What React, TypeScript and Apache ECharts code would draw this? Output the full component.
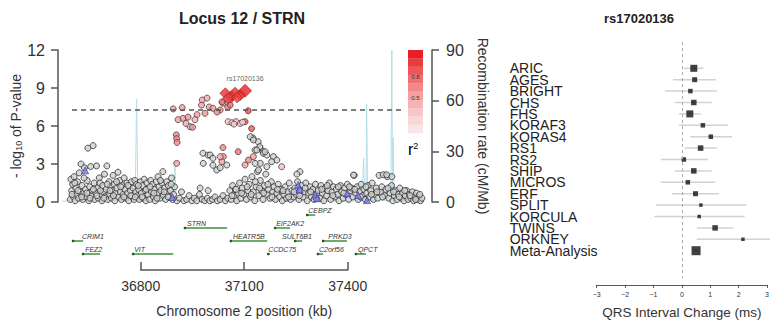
import React, { useEffect, useRef } from 'react';
import * as echarts from 'echarts';

const FONT = '"Liberation Sans", Arial, sans-serif';

// ---------- Locus plot data ----------
const plotTitle = 'Locus 12 / STRN';
const sigLine = 7.3;
const indexName = 'rs17020136';
const indexSnp: number[] = [37102, 8.78];

// low-LD SNPs [kb, -log10 p]
const greyPts: number[][] = [
  [36596,0.2],[36598,1.8],[36600,0.9],[36603,1.4],[36605,0.4],[36607,2.0],[36610,0.1],[36612,1.1],[36615,0.6],[36617,1.6],
  [36620,0.3],[36622,2.3],[36625,0.8],[36627,3.0],[36630,1.3],[36632,0.2],[36635,0.7],[36637,2.7],[36640,1.0],[36642,0.4],
  [36645,1.7],[36647,4.25],[36650,0.1],[36652,1.2],[36655,2.8],[36657,0.5],[36660,0.9],[36662,4.45],[36665,1.5],[36667,0.2],
  [36670,0.7],[36672,2.85],[36675,1.1],[36677,0.3],[36680,1.9],[36682,1.5],[36685,0.6],[36688,0.1],[36690,1.3],[36692,0.8],
  [36695,2.2],[36697,0.4],[36700,1.0],[36702,2.85],[36705,0.2],[36708,1.6],[36710,0.6],[36713,1.2],[36715,0.3],[36718,0.9],
  [36720,2.1],[36723,1.4],[36725,0.1],[36728,0.7],[36731,1.1],[36734,2.35],[36736,0.4],[36739,1.7],[36741,0.8],[36744,0.2],
  [36747,1.3],[36749,0.6],[36752,1.9],[36755,1.0],[36757,0.3],[36760,1.5],[36762,0.7],[36765,0.1],[36768,1.2],[36770,0.9],
  [36773,1.6],[36775,0.4],[36778,1.1],[36781,0.2],[36783,1.7],[36786,0.8],[36788,1.4],[36791,0.5],[36794,1.0],[36796,0.2],
  [36799,1.6],[36802,0.7],[36805,1.3],[36807,0.3],[36810,1.8],[36813,0.9],[36815,0.1],[36818,1.5],[36821,0.6],[36823,1.1],
  [36826,0.2],[36829,1.7],[36831,0.8],[36834,1.4],[36837,0.4],[36840,1.0],[36842,0.1],[36845,1.6],[36848,0.7],[36850,2.0],
  [36853,1.2],[36856,0.3],[36858,0.9],[36861,1.5],[36864,2.4],[36866,0.5],[36869,1.1],[36872,0.2],[36875,1.6],[36877,0.8],
  [36880,1.3],[36883,0.4],[36886,0.9],[36889,1.9],[36892,0.2],[36895,0.6],[36898,1.2],
  [36601,0.6],[36609,1.5],[36618,0.9],[36629,0.4],[36636,1.9],[36644,0.7],[36653,0.3],[36663,1.0],[36673,0.5],[36683,0.9],
  [36693,0.3],[36703,1.4],[36711,0.9],[36721,0.5],[36730,1.6],[36742,1.2],[36751,0.4],[36763,1.3],[36771,0.5],[36784,0.4],
  [36793,1.3],[36804,0.4],[36816,1.0],[36827,1.2],[36838,0.7],[36847,0.3],[36857,1.7],[36868,0.8],[36879,0.4],[36888,1.4],
  [36905,0.1],[36912,0.3],[36918,0.8],[36925,0.1],[36933,0.2],[36940,0.5],[36948,0.1],[36955,0.3],[36962,0.1],[36970,0.6],
  [36972,1.1],[36978,0.2],[36985,0.1],[36993,0.3],[36995,0.9],[37000,0.1],[37008,0.2],[37015,0.4],[37022,0.1],[37030,0.2],
  [37038,0.5],[37045,0.1],[37052,0.3],
  [37058,0.9],[37062,0.2],[37066,1.3],[37070,0.5],[37074,1.0],[37078,0.1],[37082,0.7],[37086,1.5],[37090,0.3],[37094,1.1],
  [37098,0.6],[37102,1.8],[37106,0.2],[37110,0.9],[37114,1.4],[37118,0.4],[37122,2.0],[37126,0.8],[37130,0.1],[37134,1.2],
  [37138,2.4],[37142,0.5],[37146,1.7],[37150,0.9],[37154,0.2],[37158,1.3],[37162,2.2],[37166,0.6],[37170,1.0],[37174,0.3],
  [37178,1.6],[37182,0.8],[37186,1.2],[37190,0.2],[37194,0.7],[37198,1.4],[37202,0.4],[37206,1.0],[37210,0.1],[37214,0.6],
  [37218,1.2],[37222,0.3],[37226,0.8],[37230,1.5],[37234,0.2],[37238,0.9],[37242,0.4],[37246,1.1],[37250,0.6],[37254,1.6],
  [37258,0.2],[37262,0.9],[37266,1.3],[37270,0.4],[37274,0.8],[37278,1.5],[37282,0.1],[37286,0.7],[37290,1.2],[37294,0.4],
  [37298,1.0],[37302,0.2],[37306,1.4],[37310,0.6],[37314,0.9],[37318,0.3],[37322,1.3],[37326,0.7],[37330,0.1],[37334,1.1],
  [37338,0.5],[37342,0.9],[37346,1.5],[37350,0.2],[37354,0.8],[37358,1.2],[37362,0.4],[37366,1.0],[37370,0.6],[37374,0.1],
  [37378,1.3],[37382,0.8],[37386,0.3],[37390,1.1],[37394,0.6],[37398,1.4],[37402,0.2],[37406,0.9],[37410,1.1],[37414,0.4],
  [37418,2.1],[37422,0.7],[37426,1.2],[37430,0.2],[37434,0.8],[37438,1.4],[37442,0.5],[37446,1.0],[37450,0.2],[37454,0.7],
  [37458,1.3],[37462,0.4],[37466,0.9],[37470,1.5],[37474,0.2],[37478,0.6],[37482,1.1],[37486,0.3],[37490,2.1],[37494,0.8],
  [37498,1.2],[37502,2.15],[37506,0.5],[37510,1.0],[37514,2.0],[37518,0.3],[37522,0.7],[37526,1.3],[37530,0.1],[37534,0.5],
  [37538,0.9],[37542,0.2],[37546,0.6],[37550,1.1],[37554,0.3],[37558,0.7],[37562,0.1],[37566,0.5],[37570,0.9],[37574,0.2],
  [37578,0.6],[37582,0.3],[37586,0.8],[37590,0.1],[37594,0.4],[37598,0.7],[37602,0.2],[37606,0.5],[37610,0.1],[37614,0.3],
  [37064,0.5],[37076,1.0],[37092,0.7],[37108,1.2],[37120,0.6],[37132,1.6],[37144,1.1],[37156,0.7],[37168,1.4],[37180,0.4],
  [37196,1.0],[37212,0.9],[37228,0.4],[37244,0.8],[37260,0.5],[37276,1.1],[37292,0.8],[37308,0.3],[37324,1.0],[37340,1.3],
  [37356,0.5],[37372,1.2],[37388,0.7],[37404,1.2],[37420,1.0],[37436,0.4],[37452,1.2],[37468,0.6],[37484,0.8],[37500,0.4],
  [37516,1.1],[37532,0.8],[37548,0.4],[37564,0.9],[37580,0.5],[37596,0.2],[37608,0.6],
  [36943,5.94],[37125,5.05],[37140,4.76],[36980,3.85],[36995,3.7],[37145,4.25],[37154,3.97],[36981,3.05],[37020,2.53],
  [37049,2.92],[37009,2.9],[37117,5.15],[37126,4.9],[37145,4.37],[37131,4.1],[37155,3.84],[37165,3.71],[37184,3.58],
  [37194,3.31],[37146,3.05],[37165,2.79],[37001,3.71],[37160,3.97],[37179,3.18],[37136,4.1],[37131,3.05],[37141,2.53],
  [37261,2.39],[37252,2.2],[37416,2.13],[37512,2.15],[37527,2.0],[37030,2.7],[37009,3.45],
];

// SNPs without LD information (blue)
const bluePts: number[][] = [
  [36639,2.5],[36891,0.4],[37256,1.35],[37260,1.0],[37305,0.6],[37311,0.3],[37398,0.7],[37429,0.55],[37455,0.15],
];

// SNPs in LD with index [kb, -log10 p, r2]
const ldPts: number[][] = [
  [36894,7.35,0.5],[36920,7.45,0.5],[36922,6.6,0.5],[36937,6.7,0.55],[36908,6.5,0.5],[36963,6.9,0.5],[36978,8.05,0.45],
  [36992,8.2,0.45],[36976,7.65,0.5],[36998,7.5,0.5],[36986,7.0,0.55],[37009,7.4,0.5],[37030,7.26,0.55],[37038,7.8,0.5],
  [37059,8.05,0.55],[37052,7.5,0.6],[37021,7.1,0.6],[36957,6.5,0.4],[36931,6.2,0.45],[36950,5.9,0.55],
  [36903,5.3,0.6],[36904,5.0,0.6],[36905,4.7,0.6],[36904,3.05,0.5],
  [37035,7.9,0.7],[37059,7.65,0.7],[37111,7.2,0.85],
  [37053,6.34,0.3],[37064,6.26,0.25],[37076,6.34,0.35],[37088,6.2,0.3],[37102,6.34,0.8],[37121,5.8,0.8],[37082,3.97,0.7],
  [37038,4.3,0.6],[37039,3.58,0.55],[37035,3.18,0.5],[37102,2.92,0.5],[37126,3.58,0.5],[37030,3.58,0.4],[37112,3.31,0.6],
  [37208,2.79,0.35],[37095,6.3,0.2],[37070,6.15,0.25],
];

// strongly linked SNPs (r2 >= 0.8) drawn as diamonds
const hiPts: number[][] = [
  [37045,8.58,0.95],[37064,8.37,0.92],[37073,8.63,0.95],[37088,8.45,0.93],[37053,8.2,0.9],[37079,8.26,0.9],
];

// recombination rate [kb, cM/Mb]
const recomb: number[][] = [
  [36572,0.5],[36700,0.8],[36712,1],[36716,13],[36720,1],[36784,1],[36788,61],[36792,1],[36895,1],[36899,22],[36903,1],
  [37040,0.5],[37044,6],[37048,0.5],[37200,0.5],[37441,0.5],[37445,26],[37449,1],[37452,1],[37454,58],[37457,1],
  [37524,1],[37527,90],[37529,2],[37531,38],[37534,1],[37556,1],[37560,8],[37563,1],[37590,1],[37594,8],[37598,1],[37623,0.5],
];

// genes
const geneNames = ['CEBPZ','STRN','EIF2AK2','CRIM1','HEATR5B','SULT6B1','PRKD3','FEZ2','VIT','CCDC75','C2orf56','QPCT'];
const geneStart = [37282,36928,37189,36604,37061,37247,37328,36633,36778,37169,37313,37423];
const geneEnd   = [37305,37050,37232,36633,37166,37267,37397,36682,36894,37174,37328,37452];
const geneRow   = [0,1,1,2,2,2,2,3,3,3,3,3];
const geneLabel = [37285,36934,37192,36630,37067,37209,37343,36639,36781,37169,37316,37429];

// ---------- Forest plot data ----------
const forestTitle = 'rs17020136';
const studies = ['ARIC','AGES','BRIGHT','CHS','FHS','KORAF3','KORAS4','RS1','RS2','SHIP','MICROS','ERF','SPLIT','KORCULA','TWINS','ORKNEY','Meta-Analysis'];
const est = [0.42,0.45,0.30,0.42,0.28,0.74,1.02,0.66,0.07,0.42,0.21,0.48,0.67,0.61,1.17,2.15,0.50];
const lo  = [0.07,-0.31,-0.59,-0.24,-0.10,-0.10,0.30,0.10,-0.74,-0.24,-0.74,-0.36,-0.91,-0.97,0.53,0.52,0.36];
const hi  = [0.76,1.20,1.23,1.05,0.68,1.63,1.77,1.23,0.91,1.05,1.17,1.31,2.27,2.21,1.81,3.10,0.64];
const boxSize = [7,5,4.5,5.5,7,4.5,4.5,5.5,4.5,5.5,4.5,5,3.5,3.5,5.5,3.5,9];

const ldColor = (r2: number) => {
  const t = Math.pow(Math.max(0, Math.min(1, r2)), 1.4);
  const a = [252, 236, 236];
  const b = [230, 32, 36];
  const c = a.map((v, i) => Math.round(v + (b[i] - v) * t));
  return `rgb(${c.join(',')})`;
};

const legendBands = [1.0, 0.9, 0.8, 0.7, 0.6, 0.5, 0.4, 0.3, 0.2, 0.1];

export default function App() {
  const ref = useRef<HTMLDivElement>(null);
  useEffect(() => {
    if (!ref.current) return;
    const chart = echarts.init(ref.current, undefined, { renderer: 'svg' });
    const axisCol = '#555';
    const txt = '#333';

    const legendGraphics: any[] = legendBands.map((r2, i) => ({
      type: 'rect',
      shape: { x: 408, y: 50 + i * 8.3, width: 15, height: 8.6 },
      style: { fill: ldColor(r2) },
      silent: true,
    }));

    const option: any = {
      animation: false,
      backgroundColor: '#fff',
      textStyle: { fontFamily: FONT },
      grid: [
        { left: 62, top: 50, width: 363, height: 152 },
        { left: 62, top: 208.5, width: 363, height: 52 },
        { left: 140.7, top: 262, width: 207, height: 8 },
        { left: 596.7, top: 34.1, width: 172.6, height: 250.8 },
      ],
      xAxis: [
        { gridIndex: 0, type: 'value', min: 36572, max: 37623, show: false },
        { gridIndex: 1, type: 'value', min: 36572, max: 37623, show: false },
        {
          gridIndex: 2, type: 'value', min: 36800, max: 37400, interval: 300,
          axisLine: { onZero: false, lineStyle: { color: axisCol, width: 1.5 } },
          axisTick: { inside: true, length: 8, lineStyle: { color: axisCol, width: 1.5 } },
          axisLabel: { fontSize: 14, color: txt, margin: 9, fontFamily: FONT, formatter: (v: number) => String(v) },
          splitLine: { show: false },
          name: 'Chromosome 2 position (kb)', nameLocation: 'middle', nameGap: 34,
          nameTextStyle: { fontSize: 14, color: txt, fontFamily: FONT },
        },
        {
          gridIndex: 3, type: 'value', min: -3, max: 3, interval: 1,
          axisLine: { onZero: false, lineStyle: { color: axisCol, width: 1 } },
          axisTick: { length: 3, lineStyle: { color: axisCol } },
          axisLabel: { fontSize: 7, color: txt, margin: 6, fontFamily: FONT,
            formatter: (v: number) => (v < 0 ? '\u2212' + Math.abs(v) : String(v)) },
          splitLine: { show: false },
          name: 'QRS Interval Change (ms)', nameLocation: 'middle', nameGap: 21,
          nameTextStyle: { fontSize: 13.5, color: txt, fontFamily: FONT },
        },
      ],
      yAxis: [
        {
          gridIndex: 0, type: 'value', min: 0, max: 12, interval: 3, position: 'left', offset: 4,
          axisLine: { show: true, lineStyle: { color: axisCol, width: 1.5 } },
          axisTick: { show: true, length: 7, lineStyle: { color: axisCol, width: 1.5 } },
          axisLabel: { fontSize: 16, color: txt, margin: 13, fontFamily: FONT },
          splitLine: { show: false },
          name: '- log{s|10} of P-value', nameLocation: 'middle', nameRotate: 90, nameGap: 34,
          nameTextStyle: { fontSize: 14, color: txt, fontFamily: FONT,
            rich: { s: { fontSize: 9, verticalAlign: 'bottom', color: txt, fontFamily: FONT } } },
        },
        {
          gridIndex: 0, type: 'value', min: 0, max: 90, interval: 30, position: 'right', offset: 7,
          axisLine: { show: true, lineStyle: { color: axisCol, width: 1.5 } },
          axisTick: { show: true, length: 7, lineStyle: { color: axisCol, width: 1.5 } },
          axisLabel: { fontSize: 16, color: txt, margin: 14, fontFamily: FONT },
          splitLine: { show: false },
          name: 'Recombination rate (cM/Mb)', nameLocation: 'middle', nameRotate: -90, nameGap: 44,
          nameTextStyle: { fontSize: 14, color: txt, fontFamily: FONT },
        },
        { gridIndex: 1, type: 'value', min: -0.5, max: 3.5, inverse: true, show: false },
        { gridIndex: 2, type: 'value', min: 0, max: 1, show: false },
        {
          gridIndex: 3, type: 'value', min: -3, max: 19, interval: 1, inverse: true,
          axisLine: { show: false }, axisTick: { show: false }, splitLine: { show: false },
          axisLabel: { align: 'left', margin: 87, fontSize: 14, color: '#222', fontFamily: FONT,
            formatter: (v: number) => studies[v] ?? '' },
        },
      ],
      graphic: [
        { type: 'text', style: { text: plotTitle, x: 242, y: 18, textAlign: 'center', textVerticalAlign: 'middle',
          font: `bold 16px ${FONT}`, fill: '#222' } },
        { type: 'text', style: { text: forestTitle, x: 639, y: 18, textAlign: 'center', textVerticalAlign: 'middle',
          font: `bold 13px ${FONT}`, fill: '#222' } },
        ...legendGraphics,
        { type: 'text', style: { text: '0.8', x: 415.5, y: 77, textAlign: 'center', textVerticalAlign: 'middle',
          font: `6px ${FONT}`, fill: '#333' } },
        { type: 'text', style: { text: '0.5', x: 415.5, y: 98, textAlign: 'center', textVerticalAlign: 'middle',
          font: `6px ${FONT}`, fill: '#333' } },
        { type: 'text', style: { text: '{a|r}{b|2}', x: 408, y: 149, textVerticalAlign: 'middle',
          rich: { a: { fontSize: 16, fontFamily: FONT, color: '#333' },
                  b: { fontSize: 9, fontFamily: FONT, verticalAlign: 'top', color: '#333' } } } },
      ],
      series: [
        {
          type: 'line', xAxisIndex: 0, yAxisIndex: 1, data: recomb, symbol: 'none', z: 1,
          lineStyle: { color: '#b3dfe6', width: 1 }, silent: true,
        },
        {
          type: 'scatter', xAxisIndex: 0, yAxisIndex: 0, data: greyPts, symbol: 'circle', symbolSize: 6, z: 2,
          itemStyle: { color: '#cfcfcf', borderColor: '#303030', borderWidth: 1 },
          markLine: {
            silent: true, symbol: 'none', label: { show: false },
            lineStyle: { type: [5, 4], color: '#555', width: 1.5 },
            data: [[{ coord: [36601, sigLine] }, { coord: [37565, sigLine] }]],
          },
        },
        {
          type: 'scatter', xAxisIndex: 0, yAxisIndex: 0, data: bluePts, symbol: 'triangle', symbolSize: 7, z: 3,
          itemStyle: { color: '#7a7ae0', borderColor: '#3a3aa0', borderWidth: 0.8 },
        },
        {
          type: 'scatter', xAxisIndex: 0, yAxisIndex: 0, data: ldPts, symbol: 'circle', symbolSize: 6, z: 4,
          itemStyle: { color: (p: any) => ldColor(p.value[2]), borderColor: '#3c2c2c', borderWidth: 0.9 },
        },
        {
          type: 'scatter', xAxisIndex: 0, yAxisIndex: 0, data: hiPts, symbol: 'diamond', symbolSize: 11, z: 5,
          itemStyle: { color: (p: any) => ldColor(p.value[2]), borderColor: '#a01818', borderWidth: 0.8 },
        },
        {
          type: 'scatter', xAxisIndex: 0, yAxisIndex: 0, data: [indexSnp], symbol: 'diamond', symbolSize: 13, z: 6,
          itemStyle: { color: ldColor(1), borderColor: '#a01818', borderWidth: 0.8 },
          label: { show: true, position: 'top', distance: 2, formatter: indexName, fontSize: 7, color: '#333', fontFamily: FONT },
        },
        {
          type: 'custom', xAxisIndex: 1, yAxisIndex: 2, z: 2,
          data: geneNames.map((_, i) => [geneStart[i], geneEnd[i], geneRow[i], geneLabel[i]]),
          renderItem: (params: any, api: any) => {
            const s = api.coord([api.value(0), api.value(2)]);
            const e = api.coord([api.value(1), api.value(2)]);
            const l = api.coord([api.value(3), api.value(2)]);
            return {
              type: 'group',
              children: [
                { type: 'line', shape: { x1: s[0], y1: s[1], x2: e[0], y2: e[1] }, style: { stroke: '#3f8f3f', lineWidth: 1.5 } },
                { type: 'circle', shape: { cx: s[0], cy: s[1], r: 1.3 }, style: { fill: '#1f5a1f' } },
                { type: 'text', x: l[0], y: s[1] - 1.5,
                  style: { text: geneNames[params.dataIndex], font: `italic 7px ${FONT}`, fill: '#333',
                    textAlign: 'left', textVerticalAlign: 'bottom' } },
              ],
            };
          },
        },
        {
          type: 'custom', xAxisIndex: 3, yAxisIndex: 4, z: 2, clip: false,
          data: studies.map((_, i) => [lo[i], hi[i], i]),
          renderItem: (params: any, api: any) => {
            const s = api.coord([api.value(0), api.value(2)]);
            const e = api.coord([api.value(1), api.value(2)]);
            return { type: 'line', shape: { x1: s[0], y1: s[1], x2: e[0], y2: e[1] }, style: { stroke: '#d2d2d2', lineWidth: 1.5 } };
          },
        },
        {
          type: 'scatter', xAxisIndex: 3, yAxisIndex: 4, z: 3, symbol: 'rect',
          data: studies.map((_, i) => [est[i], i]),
          symbolSize: (_v: any, p: any) => boxSize[p.dataIndex],
          itemStyle: { color: '#111' },
          markLine: {
            silent: true, symbol: 'none', label: { show: false },
            lineStyle: { type: [3, 3], color: '#aaa', width: 1 },
            data: [[{ coord: [0, -2.3] }, { coord: [0, 18.4] }]],
          },
        },
      ],
    };
    chart.setOption(option);
    return () => chart.dispose();
  }, []);
  return <div ref={ref} style={{ position: 'absolute', left: 0, top: 0, width: 772, height: 326, background: '#fff' }} />;
}
